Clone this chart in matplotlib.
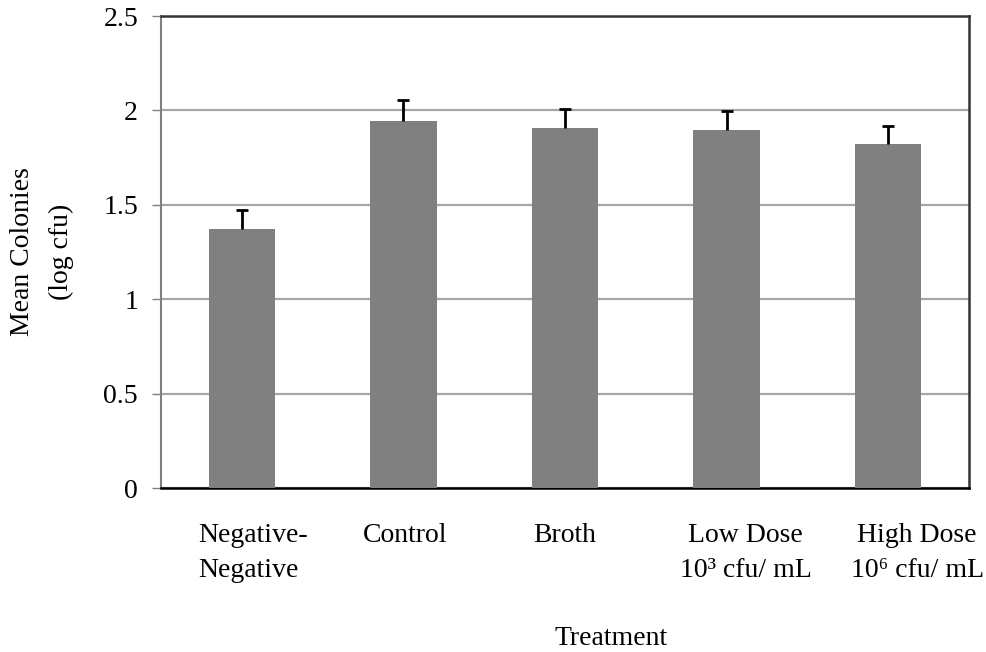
import matplotlib
matplotlib.use("Agg")
import matplotlib.pyplot as plt
import matplotlib.transforms as mtransforms
import numpy as np

plt.rcParams['font.family'] = ['Liberation Serif', 'DejaVu Serif']

categories = ["Negative-\nNegative", "Control", "Broth", "Low Dose\n10³ cfu/ mL", "High Dose\n10⁶ cfu/ mL"]
means = [1.37, 1.945, 1.905, 1.895, 1.82]
errors = [0.10, 0.11, 0.10, 0.10, 0.10]
yticks = [0, 0.5, 1, 1.5, 2, 2.5]
ytick_labels = ["0", "0.5", "1", "1.5", "2", "2.5"]

FS = 20
fig = plt.figure(figsize=(9.87, 6.52), dpi=100)
ax = fig.add_axes([161/987, 1 - 488/652, (969-161)/987, (488-16)/652])

x = np.arange(len(categories))
ax.bar(x, means, width=0.41, color='#808080', zorder=3)
eb = ax.errorbar(x, means, yerr=[np.zeros(len(errors)), errors], fmt='none',
                 ecolor='black', elinewidth=2, capsize=4.4, capthick=2, zorder=4)
# only upper caps, as in the reference
eb[1][0].set_visible(False)

ax.set_xlim(-0.5, len(categories) - 0.5)
ax.set_ylim(0, 2.5)
ax.set_yticks(yticks)
ax.set_yticklabels(ytick_labels, fontsize=FS)
ax.set_xticks(x)
ax.set_xticklabels(categories, fontsize=FS, linespacing=1.55)
ax.tick_params(axis='x', length=0, pad=25)
ax.tick_params(axis='y', length=6.5, width=1, color='#808080', direction='out', pad=10)
ax.yaxis.grid(True, color='#a6a6a6', linewidth=1.6, zorder=0)
ax.set_axisbelow(True)

# horizontal label offsets (pixels) to mimic the reference layout
offsets = [11, 1.5, 0, 19, 29]
for lbl, dx in zip(ax.get_xticklabels(), offsets):
    lbl.set_transform(lbl.get_transform() + mtransforms.ScaledTranslation(dx / 100, 0, fig.dpi_scale_trans))
ax.get_xticklabels()[0].set_multialignment('left')

for s in ['top', 'right']:
    ax.spines[s].set_color('#333333')
    ax.spines[s].set_linewidth(1.8)
ax.spines['left'].set_color('#808080')
ax.spines['left'].set_linewidth(1.5)
ax.spines['bottom'].set_color('black')
ax.spines['bottom'].set_linewidth(1.8)

ax.set_xlabel("Treatment", fontsize=FS, labelpad=31)
ax.xaxis.label.set_x((611 - 161) / 808)
ax.set_ylabel("Mean Colonies\n(log cfu)", fontsize=FS, labelpad=21, linespacing=1.75)

fig.savefig("out.png", dpi=100)
